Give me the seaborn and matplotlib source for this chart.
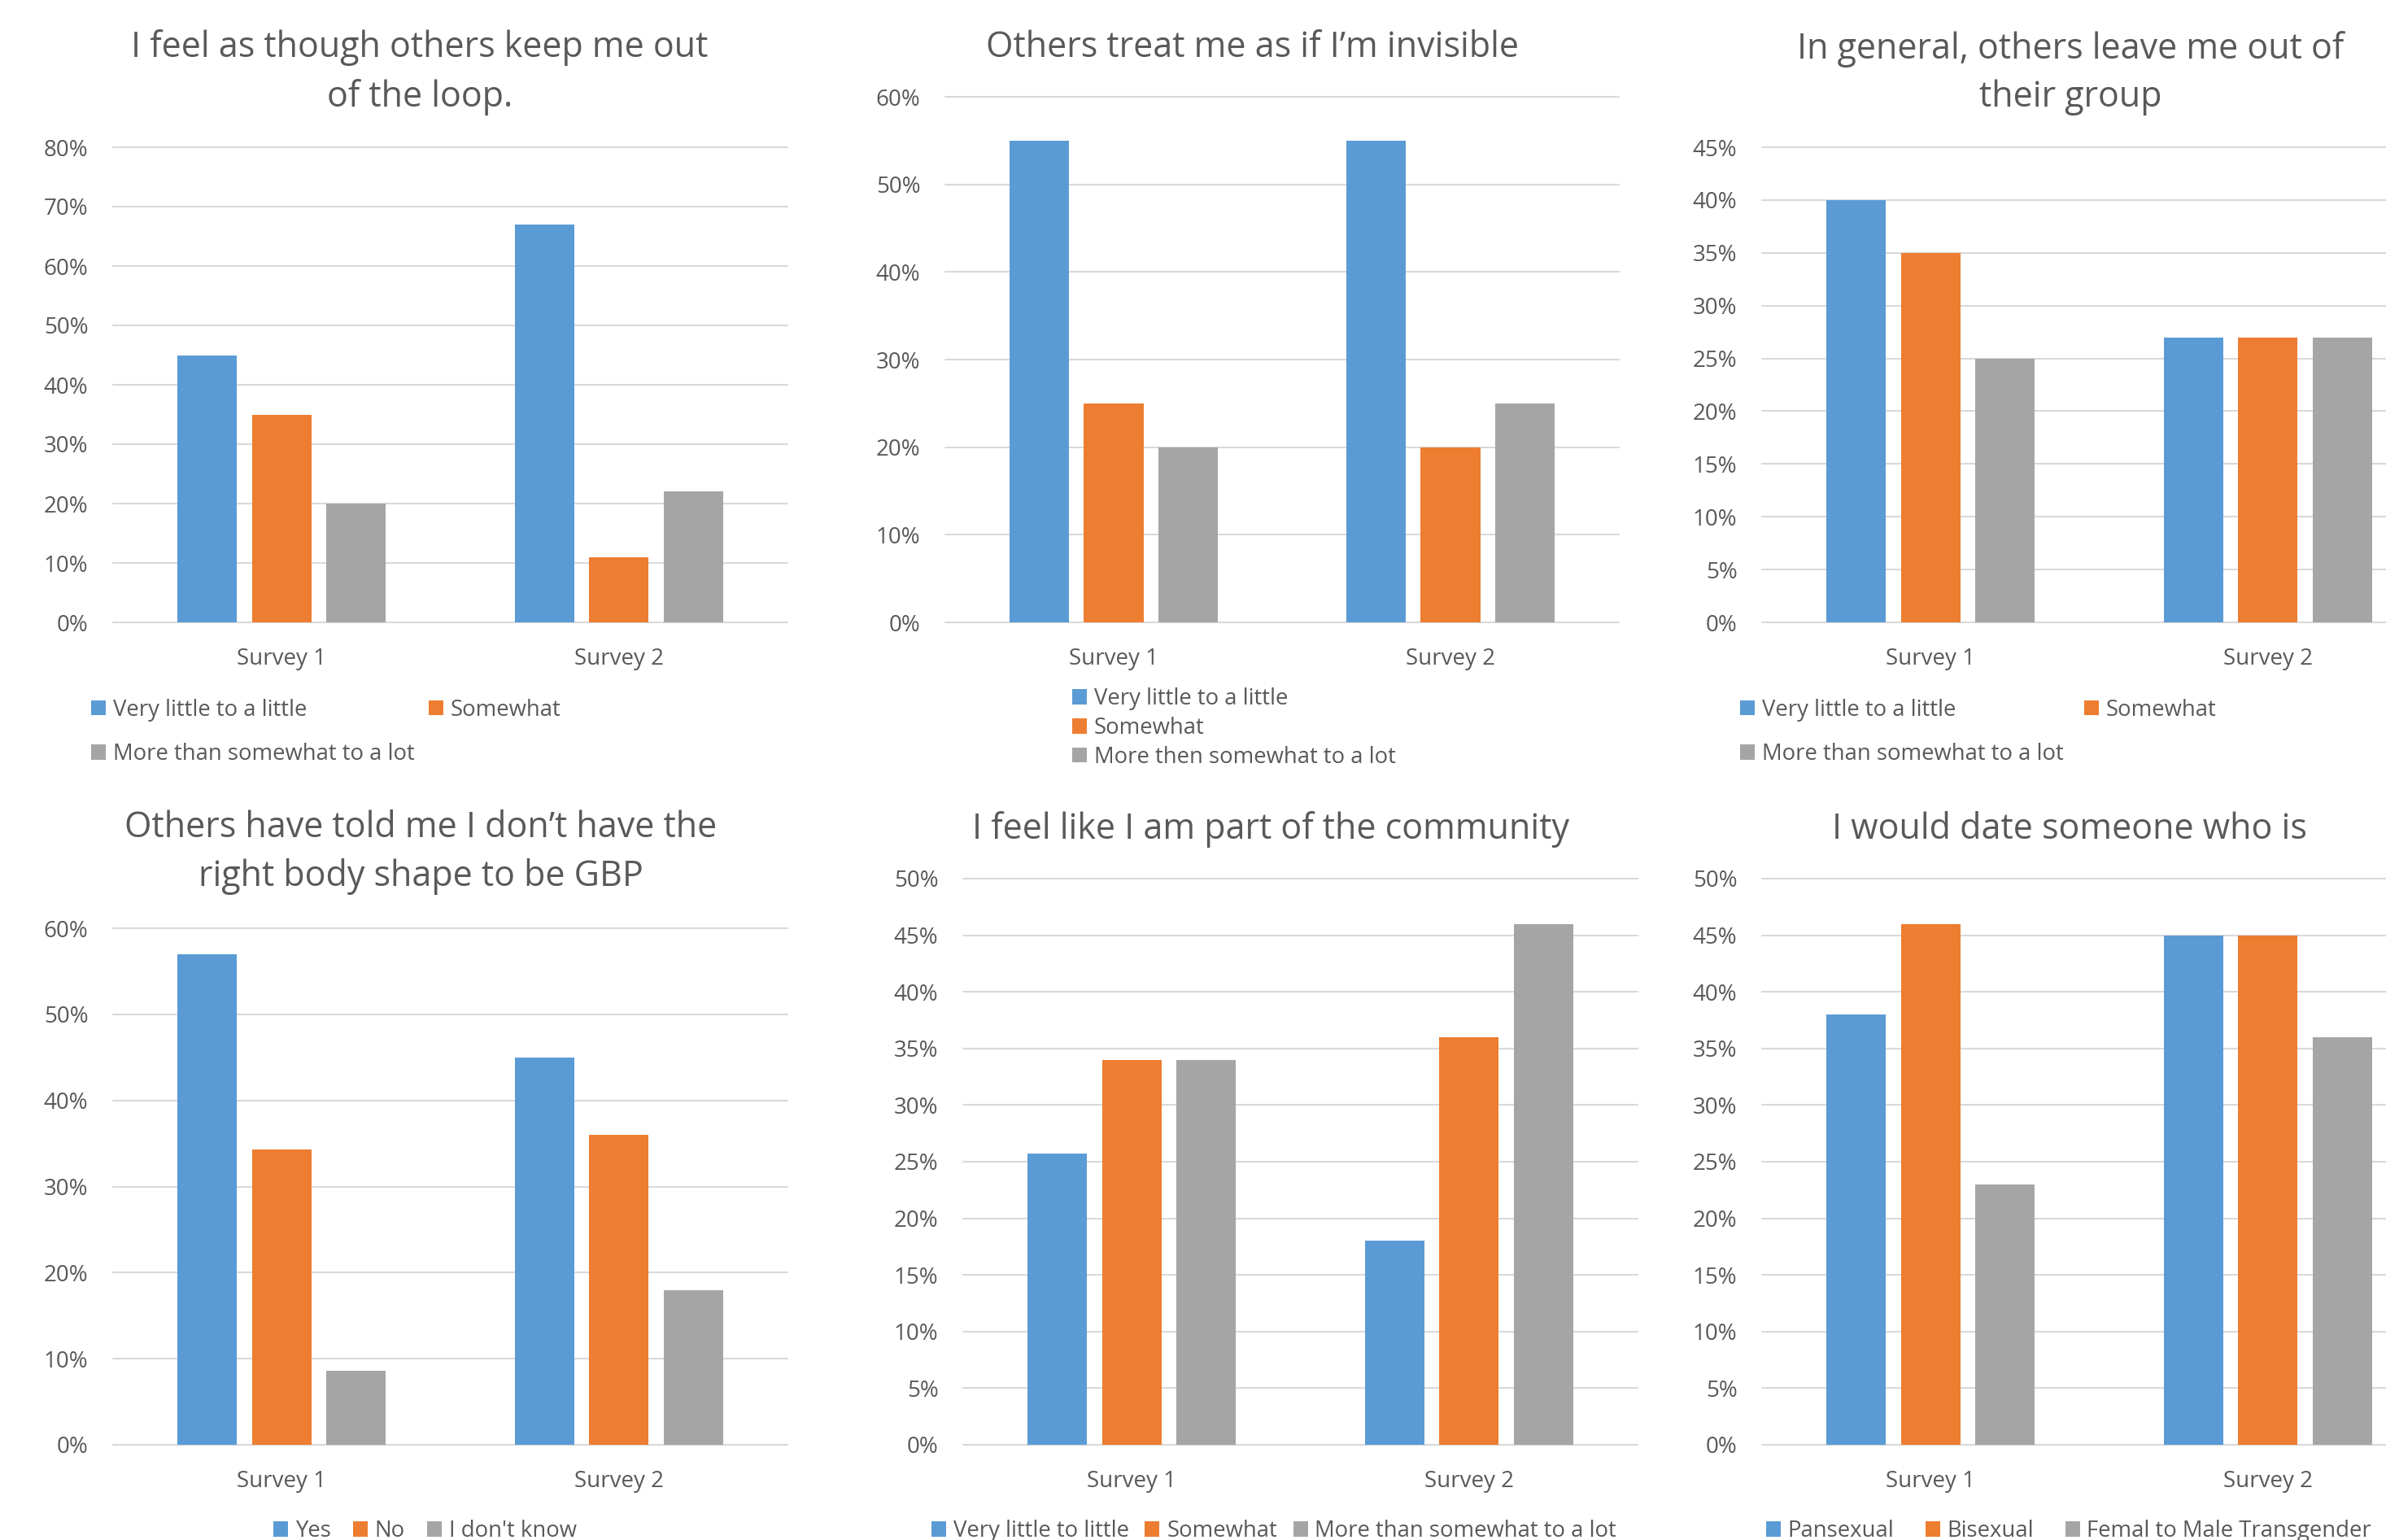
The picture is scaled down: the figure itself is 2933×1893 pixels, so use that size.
import matplotlib
matplotlib.use("Agg")
import matplotlib.pyplot as plt
import seaborn as sns
import pandas as pd

surveys = ["Survey 1", "Survey 2"]
colors = ["#5B9BD5", "#ED7D31", "#A5A5A5"]

loop_labels = ["Very little to a little", "Somewhat", "More than somewhat to a lot"]
loop_s1 = [45, 35, 20]
loop_s2 = [67, 11, 22]

invisible_labels = ["Very little to a little", "Somewhat", "More then somewhat to a lot"]
invisible_s1 = [55, 25, 20]
invisible_s2 = [55, 20, 25]

group_labels = ["Very little to a little", "Somewhat", "More than somewhat to a lot"]
group_s1 = [40, 35, 25]
group_s2 = [27, 27, 27]

body_labels = ["Yes", "No", "I don't know"]
body_s1 = [57, 34.3, 8.6]
body_s2 = [45, 36, 18]

community_labels = ["Very little to little", "Somewhat", "More than somewhat to a lot"]
community_s1 = [25.7, 34, 34]
community_s2 = [18, 36, 46]

date_labels = ["Pansexual", "Bisexual", "Femal to Male Transgender"]
date_s1 = [38, 46, 23]
date_s2 = [45, 45, 36]

W, H = 2933, 1893
TEXT = "#595959"
GRID = "#D9D9D9"
FONT = "Open Sans"
SMALL = 20
LEGEND = 19.8
TITLE = 31

sns.set_theme(style="white")
plt.rcParams["font.family"] = [FONT, "DejaVu Sans"]

fig = plt.figure(figsize=(W / 100, H / 100), dpi=100)


def frac_box(x0, x1, y0, y1):
    return [x0 / W, 1 - y1 / H, (x1 - x0) / W, (y1 - y0) / H]


def draw_panel(labels, s1, s2, title, ymax, ystep, axbox, title_xy,
               legend_xy, ncol, colspace, rowspace):
    df = pd.DataFrame({
        "survey": [surveys[0]] * 3 + [surveys[1]] * 3,
        "response": labels + labels,
        "value": s1 + s2,
    })
    ax = fig.add_axes(frac_box(*axbox))
    sns.barplot(data=df, x="survey", y="value", hue="response",
                hue_order=labels, palette=colors, saturation=1,
                width=0.662, gap=0.2, linewidth=0, ax=ax)
    ax.set_xlim(-0.5, 1.5)
    ax.set_ylim(0, ymax)
    ticks = list(range(0, ymax + 1, ystep))
    ax.set_yticks(ticks)
    ax.set_yticklabels([f"{t}%" for t in ticks])
    ax.set_xlabel("")
    ax.set_ylabel("")
    for side in ["top", "right", "bottom", "left"]:
        ax.spines[side].set_visible(False)
    ax.yaxis.grid(True, color=GRID, linewidth=1.5)
    ax.set_axisbelow(True)
    for line in ax.get_ygridlines():
        line.set_clip_on(False)
    ax.tick_params(axis="y", length=0, pad=22, labelsize=SMALL, labelcolor=TEXT)
    ax.tick_params(axis="x", length=0, pad=22, labelsize=SMALL, labelcolor=TEXT)

    # legend order: excel fills rows first, matplotlib fills columns
    handles, names = ax.get_legend_handles_labels()
    if ncol == 2:
        order = [0, 2, 1]
        handles = [handles[i] for i in order]
        names = [names[i] for i in order]
    ax.legend(handles, names, loc="center left",
              bbox_to_anchor=(legend_xy[0] / W, 1 - legend_xy[1] / H),
              bbox_transform=fig.transFigure, ncol=ncol, frameon=False,
              borderpad=0, borderaxespad=0, handlelength=0.65,
              handleheight=0.65, handletextpad=0.32, columnspacing=colspace,
              labelspacing=rowspace, fontsize=LEGEND, labelcolor=TEXT)

    fig.text(title_xy[0] / W, 1 - title_xy[1] / H, title, ha="center",
             va="center", fontsize=TITLE, color=TEXT, linespacing=1.45)
    return ax


draw_panel(loop_labels, loop_s1, loop_s2,
           "I feel as though others keep me out\nof the loop.",
           80, 10, (139, 968, 181, 765), (516, 89), (112, 900), 2, 0.65, 0.95)
draw_panel(invisible_labels, invisible_s1, invisible_s2,
           "Others treat me as if I\u2019m invisible",
           60, 10, (1162, 1990, 119, 765), (1540, 59), (1318, 895), 1, 0.4, 0.28)
draw_panel(group_labels, group_s1, group_s2,
           "In general, others leave me out of\ntheir group",
           45, 5, (2166, 2995, 181, 765), (2545, 90), (2139, 900), 2, 0.94, 0.95)
draw_panel(body_labels, body_s1, body_s2,
           "Others have told me I don\u2019t have the\nright body shape to be GBP",
           60, 10, (139, 968, 1141, 1776), (517, 1048), (336, 1882), 3, 1.0, 0.2)
draw_panel(community_labels, community_s1, community_s2,
           "I feel like I am part of the community",
           50, 5, (1184, 2013, 1080, 1776), (1562, 1020), (1145, 1882), 3, 0.72, 0.2)
draw_panel(date_labels, date_s1, date_s2,
           "I would date someone who is",
           50, 5, (2166, 2995, 1080, 1776), (2544, 1020), (2171, 1882), 3, 1.4, 0.2)

fig.savefig("out.png", dpi=100, facecolor="white")
